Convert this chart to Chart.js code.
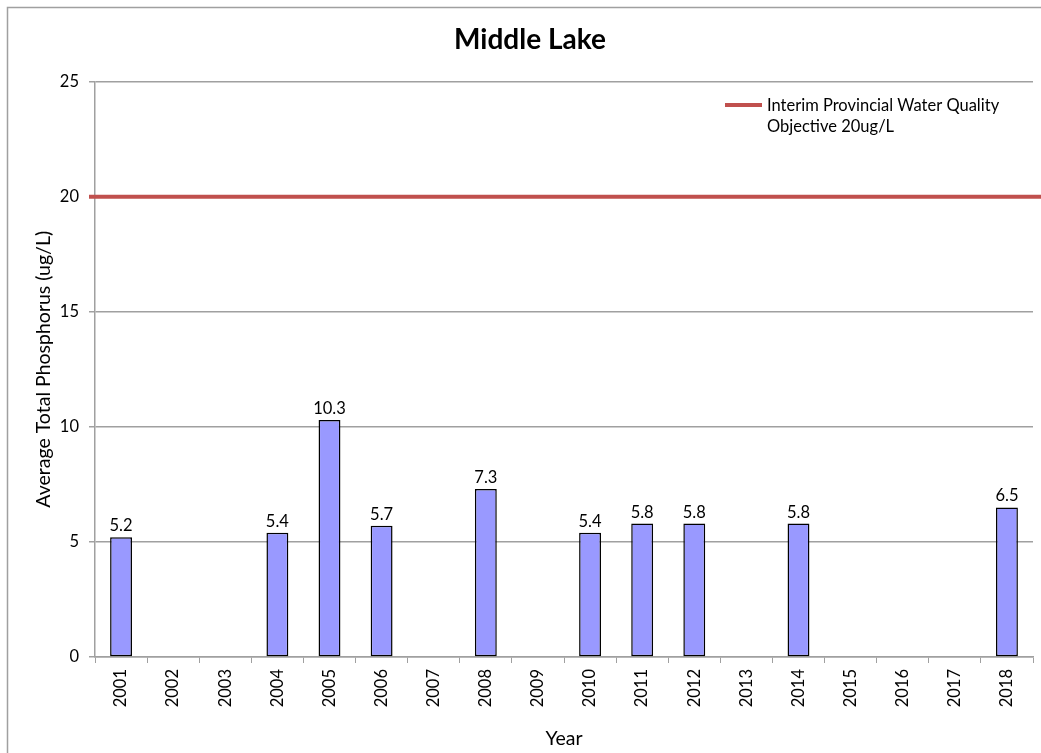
<!DOCTYPE html>
<html>
<head>
<meta charset="utf-8">
<script src="https://cdn.jsdelivr.net/npm/chart.js@4"></script>
<style>
  html, body { margin: 0; padding: 0; background: #fff; }
  #wrap { position: relative; width: 1041px; height: 753px; }
</style>
</head>
<body>
<div id="wrap"><canvas id="grafico" width="1041" height="753"></canvas></div>
<script>
const anos = ["2001", "2002", "2003", "2004", "2005", "2006", "2007", "2008", "2009",
  "2010", "2011", "2012", "2013", "2014", "2015", "2016", "2017", "2018"];
const fosforo = [5.2, null, null, 5.4, 10.3, 5.7, null, 7.3, null,
  5.4, 5.8, 5.8, null, 5.8, null, null, null, 6.5];
const objetivo = 20;
const objetivoLabel = ["Interim Provincial Water Quality", "Objective 20ug/L"];
const yTicks = [0, 5, 10, 15, 20, 25];

const fonte = "Lato, 'Open Sans', sans-serif";
const cinza = "#a0a0a0";

// moldura, linha do objetivo, legenda e rotulos das barras
const extras = {
  id: "extras",
  beforeDraw(chart) {
    const c = chart.ctx;
    c.save();
    c.strokeStyle = cinza;
    c.lineWidth = 1.5;
    c.strokeRect(7.5, 7.5, chart.width + 20, chart.height + 20);
    c.restore();
  },
  afterDatasetsDraw(chart) {
    const c = chart.ctx;
    const area = chart.chartArea;
    const y = chart.scales.y.getPixelForValue(objetivo);
    c.save();
    c.strokeStyle = "#c0504d";
    c.lineWidth = 4;
    c.beginPath();
    c.moveTo(area.left - 6, y);
    c.lineTo(chart.width, y);
    c.stroke();

    // legenda
    c.beginPath();
    c.moveTo(725, 105);
    c.lineTo(762, 105);
    c.stroke();
    c.fillStyle = "#000";
    c.font = "16.5px " + fonte;
    c.textBaseline = "middle";
    c.textAlign = "left";
    objetivoLabel.forEach((t, i) => c.fillText(t, 767, 106 + i * 21));

    // valores acima das barras
    const meta = chart.getDatasetMeta(0);
    c.textAlign = "center";
    c.textBaseline = "bottom";
    meta.data.forEach((bar, i) => {
      const v = fosforo[i];
      if (v == null) return;
      c.fillText(v.toFixed(1), bar.x, bar.y - 3);
    });
    c.restore();
  }
};

new Chart(document.getElementById("grafico").getContext("2d"), {
  type: "bar",
  data: {
    labels: anos,
    datasets: [{
      label: "Average Total Phosphorus",
      data: fosforo,
      backgroundColor: "#9999ff",
      borderColor: "#000",
      borderWidth: 1.5,
      borderSkipped: false,
      categoryPercentage: 1,
      barPercentage: 0.42
    }]
  },
  options: {
    responsive: false,
    animation: false,
    layout: { padding: { left: 27, right: 8, top: 0, bottom: 0 } },
    plugins: {
      legend: { display: false },
      tooltip: { enabled: false },
      title: {
        display: true,
        text: "Middle Lake",
        color: "#000",
        font: { family: fonte, size: 28, weight: "bold", lineHeight: 1.2 },
        padding: { top: 23, bottom: 25 }
      }
    },
    scales: {
      x: {
        grid: { drawOnChartArea: false, drawTicks: true, tickLength: 6, color: cinza, offset: true },
        border: { color: cinza, width: 1.5 },
        ticks: { color: "#000", font: { family: fonte, size: 16.5 }, minRotation: 90, maxRotation: 90, padding: 6, autoSkip: false },
        title: { display: true, text: "Year", color: "#000", font: { family: fonte, size: 19.5 }, padding: { top: 0, bottom: 3 } },
        afterFit(s) { s.height = 96; }
      },
      y: {
        min: 0,
        max: 25,
        afterBuildTicks(s) { s.ticks = yTicks.map(v => ({ value: v })); },
        grid: { color: cinza, lineWidth: 1.5, tickLength: 6 },
        border: { color: cinza, width: 1.5 },
        ticks: { color: "#000", font: { family: fonte, size: 16.5 }, padding: 10 },
        title: { display: true, text: "Average Total Phosphorus (ug/L)", color: "#000", font: { family: fonte, size: 19.5 }, padding: { top: 5, bottom: 0 } },
        afterFit(s) { s.width = 68; }
      }
    }
  },
  plugins: [extras]
});
</script>
</body>
</html>
